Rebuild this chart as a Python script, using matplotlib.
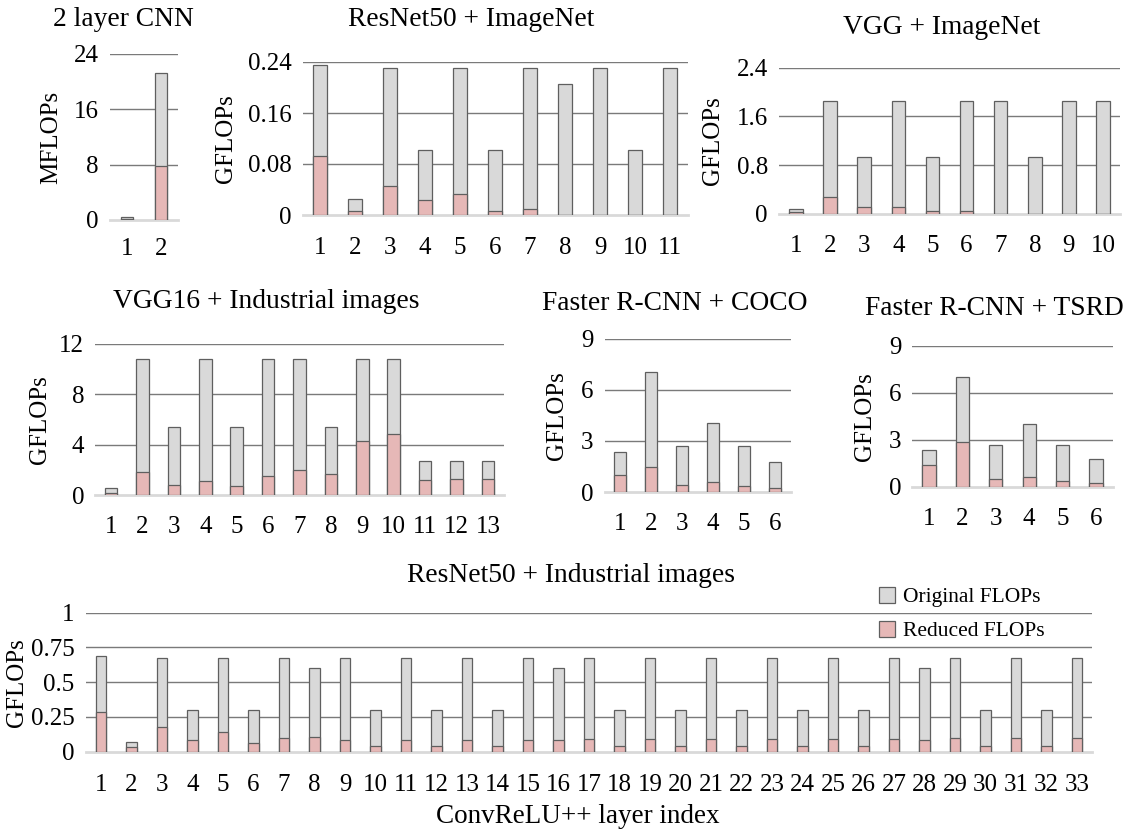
import matplotlib.pyplot as plt
import numpy as np
from matplotlib.patches import Patch

plt.rcParams['font.family'] = ['Liberation Serif', 'DejaVu Serif']

W, H = 1135, 830

# --- data ---
cnn2_orig = [0.4, 21.3]
cnn2_red = [0.2, 7.8]

r50_in_orig = [0.236, 0.025, 0.230, 0.1025, 0.230, 0.1025, 0.230, 0.206, 0.230, 0.1025, 0.230]
r50_in_red = [0.0925, 0.006, 0.0455, 0.0235, 0.0335, 0.006, 0.009, 0, 0, 0, 0]

vgg_in_orig = [0.087, 1.85, 0.93, 1.85, 0.93, 1.85, 1.85, 0.93, 1.85, 1.85]
vgg_in_red = [0.03, 0.274, 0.11, 0.11, 0.05, 0.05, 0, 0, 0, 0]

vgg16_ind_orig = [0.52, 10.8, 5.4, 10.8, 5.4, 10.8, 10.8, 5.4, 10.8, 10.8, 2.73, 2.73, 2.73]
vgg16_ind_red = [0.16, 1.82, 0.78, 1.14, 0.73, 1.53, 1.97, 1.64, 4.31, 4.88, 1.19, 1.25, 1.25]

frcnn_coco_orig = [2.37, 7.03, 2.70, 4.03, 2.70, 1.78]
frcnn_coco_red = [1.02, 1.49, 0.41, 0.57, 0.37, 0.22]

frcnn_tsrd_orig = [2.34, 7.0, 2.66, 4.0, 2.66, 1.74]
frcnn_tsrd_red = [1.38, 2.83, 0.47, 0.6, 0.36, 0.21]

r50_ind_orig = [0.69, 0.072, 0.676, 0.297, 0.676, 0.297, 0.676, 0.604, 0.676, 0.297,
                0.676, 0.297, 0.676, 0.297, 0.676, 0.604, 0.676, 0.297, 0.676, 0.297,
                0.676, 0.297, 0.676, 0.297, 0.676, 0.297, 0.676, 0.604, 0.676, 0.297,
                0.676, 0.297, 0.676]
r50_ind_red = [0.283, 0.031, 0.175, 0.082, 0.144, 0.062, 0.10, 0.108, 0.086, 0.038,
               0.086, 0.038, 0.086, 0.038, 0.086, 0.082, 0.094, 0.038, 0.094, 0.038,
               0.094, 0.038, 0.094, 0.038, 0.094, 0.038, 0.094, 0.082, 0.096, 0.038,
               0.096, 0.038, 0.096]

GREY = '#d9d9d9'
PINK = '#e6b8b7'
EDGE = '#5f5f5f'
GRID = '#7a7a7a'

fig = plt.figure(figsize=(W / 100, H / 100), dpi=100)


def panel(x0, x1, y0, y1, orig, red, yticks, ylabel, ylab_x, ticklabels=None, width=0.4, xpad=15):
    ax = fig.add_axes([x0 / W, 1 - y1 / H, (x1 - x0) / W, (y1 - y0) / H])
    n = len(orig)
    x = np.arange(1, n + 1)
    for t in yticks[1:]:
        ax.axhline(t, color=GRID, lw=1.0, zorder=0)
    ax.bar(x, orig, width=width, color=GREY, edgecolor=EDGE, linewidth=0.9, zorder=2)
    ax.bar(x, red, width=width, color=PINK, edgecolor=EDGE, linewidth=0.9, zorder=3)
    ax.set_xlim(0.5, n + 0.5)
    ax.set_ylim(0, yticks[-1])
    ax.set_yticks(yticks)
    ax.set_yticklabels(ticklabels if ticklabels else [str(t) for t in yticks])
    ax.set_xticks(x)
    ax.tick_params(length=0, labelsize=18)
    ax.tick_params(axis='y', pad=8)
    ax.tick_params(axis='x', pad=xpad)
    for s in ['top', 'right', 'left']:
        ax.spines[s].set_visible(False)
    ax.spines['bottom'].set_color(GREY)
    ax.spines['bottom'].set_linewidth(2)
    ax.spines['bottom'].set_zorder(1)
    ax.patch.set_alpha(0)
    fig.text(ylab_x / W, 1 - (y0 + y1) / 2 / H, ylabel, rotation=90,
             ha='center', va='center', fontsize=18)
    return ax


panel(110, 178, 54, 220, cnn2_orig, cnn2_red, [0, 8, 16, 24], 'MFLOPs', 51, width=0.38, xpad=13)
panel(302.5, 687.5, 62, 215, r50_in_orig, r50_in_red, [0, 0.08, 0.16, 0.24], 'GFLOPs', 226,
      ticklabels=['0', '0.08', '0.16', '0.24'], xpad=16)
panel(779, 1120, 67.7, 214, vgg_in_orig, vgg_in_red, [0, 0.8, 1.6, 2.4], 'GFLOPs', 713,
      ticklabels=['0', '0.8', '1.6', '2.4'])
panel(95.3, 503.7, 344, 495, vgg16_ind_orig, vgg16_ind_red, [0, 4, 8, 12], 'GFLOPs', 40)
panel(604.5, 790.5, 338.7, 492, frcnn_coco_orig, frcnn_coco_red, [0, 3, 6, 9], 'GFLOPs', 557)
panel(912.3, 1112.7, 345.7, 486.7, frcnn_tsrd_orig, frcnn_tsrd_red, [0, 3, 6, 9], 'GFLOPs', 865)
panel(85.75, 1092.25, 612.7, 751.7, r50_ind_orig, r50_ind_red, [0, 0.25, 0.5, 0.75, 1],
      'GFLOPs', 17.5, ticklabels=['0', '0.25', '0.5', '0.75', '1'], width=0.36, xpad=16)

titles = [('2 layer CNN', 123.5, 20), ('ResNet50 + ImageNet', 471, 20),
          ('VGG + ImageNet', 942, 27), ('VGG16 + Industrial images', 266, 302),
          ('Faster R-CNN + COCO', 675, 303), ('Faster R-CNN + TSRD', 994, 308),
          ('ResNet50 + Industrial images', 571, 575)]
for txt, tx, ty in titles:
    fig.text(tx / W, 1 - ty / H, txt, ha='center', va='center', fontsize=19.8)

fig.text(578 / W, 1 - 816 / H, 'ConvReLU++ layer index', ha='center', va='center', fontsize=19.5)

handles = [Patch(facecolor=GREY, edgecolor=EDGE, linewidth=0.9, label='Original FLOPs'),
           Patch(facecolor=PINK, edgecolor=EDGE, linewidth=0.9, label='Reduced FLOPs')]
fig.legend(handles=handles, loc='upper left', bbox_to_anchor=(879 / W, 1 - 587 / H),
           frameon=False, fontsize=15.5, handlelength=0.75, handleheight=0.75,
           handletextpad=0.35, labelspacing=0.62, borderpad=0, borderaxespad=0)

fig.savefig('out.png', dpi=100, facecolor='white')
